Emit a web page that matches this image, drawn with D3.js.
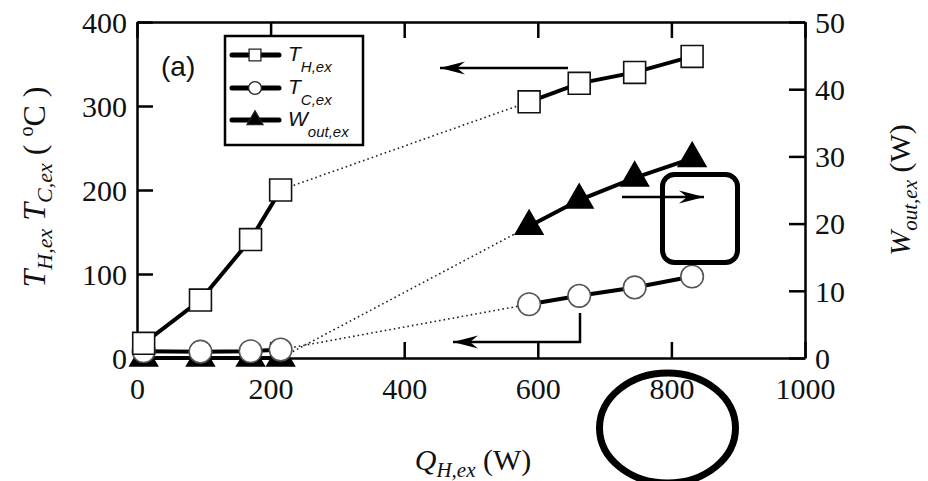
<!DOCTYPE html>
<html>
<head>
<meta charset="utf-8">
<script src="https://cdn.jsdelivr.net/npm/d3@7"></script>
<style>
  html, body { margin: 0; padding: 0; background: #fff; }
  svg { display: block; }
</style>
</head>
<body>
<svg id="chart" width="928" height="481"></svg>
<script>
// ---- data ----
const qLow  = [10, 95, 170, 215];          // Q_H,ex (W), low-power group
const qHigh = [587, 662, 745, 831];        // Q_H,ex (W), high-power group
const tHLow  = [17.5, 69, 141, 200];       // T_H,ex (°C)
const tHHigh = [305, 327, 340, 359];
const tCLow  = [8, 7.5, 8, 10];            // T_C,ex (°C)
const tCHigh = [64, 74, 84, 97];
const wLow  = [0, 0, 0, 0];                // W_out,ex (W)
const wHigh = [19.6, 23.5, 26.8, 29.7];
const xTicks = [0, 200, 400, 600, 800, 1000];
const yLeftTicks = [0, 100, 200, 300, 400];
const yRightTicks = [0, 10, 20, 30, 40, 50];

// ---- layout ----
const svg = d3.select("#chart");
const L = 137, R = 805, T = 22, B = 358;
const x = d3.scaleLinear().domain([0, 1000]).range([L, R]);
const yL = d3.scaleLinear().domain([0, 400]).range([B, T]);
const yR = d3.scaleLinear().domain([0, 50]).range([B, T]);

const serif = "'Liberation Serif', 'Times New Roman', serif";
const sans = "'Liberation Sans', Arial, sans-serif";

// ---- axes ----
function styleAxis(g) {
  g.attr("font-family", null).attr("font-size", null);
  g.selectAll("path.domain").attr("stroke", "#000").attr("stroke-width", 2.5);
  g.selectAll(".tick line").attr("stroke", "#000").attr("stroke-width", 2.5);
  g.selectAll(".tick text").style("font-family", serif).style("font-size", "30px").attr("fill", "#111");
}
const fmt = d3.format("d");
svg.append("g").attr("transform", `translate(0,${B})`)
  .call(d3.axisBottom(x).tickValues(xTicks).tickFormat(fmt).tickSize(-16).tickSizeOuter(0).tickPadding(20))
  .call(styleAxis);
svg.append("g").attr("transform", `translate(0,${T})`)
  .call(d3.axisTop(x).tickValues(xTicks).tickSize(-16).tickSizeOuter(0).tickFormat(""))
  .call(styleAxis);
svg.append("g").attr("transform", `translate(${L},0)`)
  .call(d3.axisLeft(yL).tickValues(yLeftTicks).tickFormat(fmt).tickSize(-16).tickSizeOuter(0).tickPadding(10))
  .call(styleAxis)
  .selectAll(".tick text").attr("dy", "0.36em");
svg.append("g").attr("transform", `translate(${R},0)`)
  .call(d3.axisRight(yR).tickValues(yRightTicks).tickFormat(fmt).tickSize(-16).tickSizeOuter(0).tickPadding(10))
  .call(styleAxis)
  .selectAll(".tick text").attr("dy", "0.34em");

// ---- series ----
const series = [
  { key: "W", low: wLow, high: wHigh, y: yR, shape: d3.symbolTriangle, size: 330, fill: "#000", stroke: "#000" },
  { key: "TC", low: tCLow, high: tCHigh, y: yL, shape: d3.symbolCircle, size: 400, fill: "#fff", stroke: "#555" },
  { key: "TH", low: tHLow, high: tHHigh, y: yL, shape: d3.symbolSquare, size: 480, fill: "#fff", stroke: "#111" }
];

const line = (ys) => d3.line().x(d => x(d[0])).y(d => ys(d[1]));

// dotted connectors
series.forEach(s => {
  svg.append("path")
    .datum([[qLow[3], s.low[3]], [qHigh[0], s.high[0]]])
    .attr("d", line(s.y))
    .attr("fill", "none").attr("stroke", "#222").attr("stroke-width", 1.6)
    .attr("stroke-dasharray", "1.6,3");
});
// solid lines
series.forEach(s => {
  [[qLow, s.low], [qHigh, s.high]].forEach(([qs, vs]) => {
    svg.append("path")
      .datum(qs.map((q, i) => [q, vs[i]]))
      .attr("d", line(s.y))
      .attr("fill", "none").attr("stroke", "#000").attr("stroke-width", 4);
  });
});
// markers
series.forEach(s => {
  const pts = qLow.map((q, i) => [q, s.low[i]]).concat(qHigh.map((q, i) => [q, s.high[i]]));
  svg.append("g").selectAll("path").data(pts).join("path")
    .attr("transform", d => `translate(${x(d[0])},${s.y(d[1])})`)
    .attr("d", d3.symbol().type(s.shape).size(s.size))
    .attr("fill", s.fill).attr("stroke", s.stroke).attr("stroke-width", 1.6);
});

// ---- legend ----
const leg = svg.append("g");
leg.append("rect").attr("x", 225).attr("y", 36).attr("width", 138).attr("height", 109)
  .attr("fill", "#fff").attr("stroke", "#000").attr("stroke-width", 2.5);
const legRows = [
  { y: 55, shape: d3.symbolSquare, size: 140, fill: "#fff", main: "T", sub: "H,ex" },
  { y: 88, shape: d3.symbolCircle, size: 130, fill: "#fff", main: "T", sub: "C,ex" },
  { y: 120, shape: d3.symbolTriangle, size: 110, fill: "#000", main: "W", sub: "out,ex" }
];
legRows.forEach(r => {
  leg.append("line").attr("x1", 232).attr("x2", 279).attr("y1", r.y).attr("y2", r.y)
    .attr("stroke", "#000").attr("stroke-width", 5).attr("stroke-linecap", "round");
  leg.append("path").attr("transform", `translate(255,${r.y})`)
    .attr("d", d3.symbol().type(r.shape).size(r.size))
    .attr("fill", r.fill).attr("stroke", "#222").attr("stroke-width", 1.3);
  const t = leg.append("text").attr("x", 288).attr("y", r.y + 6)
    .style("font-family", sans).style("font-style", "italic").style("font-size", "21px").attr("fill", "#111");
  t.append("tspan").text(r.main);
  t.append("tspan").style("font-size", "15px").attr("dy", 11).text(r.sub);
});

// panel tag
svg.append("text").attr("x", 161).attr("y", 76).style("font-family", sans).style("font-size", "28px")
  .attr("fill", "#111").text("(a)");

// ---- axis titles ----
const yt = svg.append("text").attr("transform", "translate(45,187) rotate(-90)")
  .attr("text-anchor", "middle").style("font-family", serif).style("font-size", "32px").attr("fill", "#111");
yt.append("tspan").style("font-style", "italic").text("T");
yt.append("tspan").style("font-style", "italic").style("font-size", "22px").attr("dy", 7).text("H,ex");
yt.append("tspan").style("font-style", "italic").attr("dy", -7).text(" T");
yt.append("tspan").style("font-style", "italic").style("font-size", "22px").attr("dy", 7).text("C,ex");
yt.append("tspan").attr("dy", -7).text(" ( ");
yt.append("tspan").style("font-size", "20px").attr("dy", -12).text("o");
yt.append("tspan").attr("dy", 12).text("C )");

const rt = svg.append("text").attr("transform", "translate(910,190) rotate(-90)")
  .attr("text-anchor", "middle").style("font-family", serif).style("font-size", "30px").attr("fill", "#111");
rt.append("tspan").style("font-style", "italic").text("W");
rt.append("tspan").style("font-style", "italic").style("font-size", "21px").attr("dy", 7).text("out,ex");
rt.append("tspan").attr("dy", -7).text(" (W)");

const bt = svg.append("text").attr("x", 473).attr("y", 470)
  .attr("text-anchor", "middle").style("font-family", serif).style("font-size", "30px").attr("fill", "#111");
bt.append("tspan").style("font-style", "italic").text("Q");
bt.append("tspan").style("font-style", "italic").style("font-size", "21px").attr("dy", 7).text("H,ex");
bt.append("tspan").attr("dy", -7).text(" (W)");

// ---- annotations ----
const ann = svg.append("g").attr("stroke", "#000").attr("fill", "none");
function arrow(pts, width) {
  ann.append("path").attr("d", d3.line()(pts)).attr("stroke-width", width);
  const [x1, y1] = pts[pts.length - 2], [x2, y2] = pts[pts.length - 1];
  const a = Math.atan2(y2 - y1, x2 - x1), len = 25, hw = 6.5;
  const bx = x2 - len * Math.cos(a), by = y2 - len * Math.sin(a);
  ann.append("path")
    .attr("d", `M${x2},${y2}L${bx - hw * Math.sin(a)},${by + hw * Math.cos(a)}L${bx + 8 * Math.cos(a)},${by + 8 * Math.sin(a)}L${bx + hw * Math.sin(a)},${by - hw * Math.cos(a)}Z`)
    .attr("fill", "#000").attr("stroke", "none");
}
arrow([[568, 68], [440, 68]], 2.5);
arrow([[622, 197], [704, 197]], 2.5);
arrow([[580, 313], [580, 342], [453, 342]], 2.5);

ann.append("rect").attr("x", 662.5).attr("y", 174.5).attr("width", 75).attr("height", 88)
  .attr("rx", 12).attr("stroke-width", 5);
ann.append("ellipse").attr("cx", 667.5).attr("cy", 428).attr("rx", 68).attr("ry", 55)
  .attr("stroke-width", 7);
</script>
</body>
</html>
